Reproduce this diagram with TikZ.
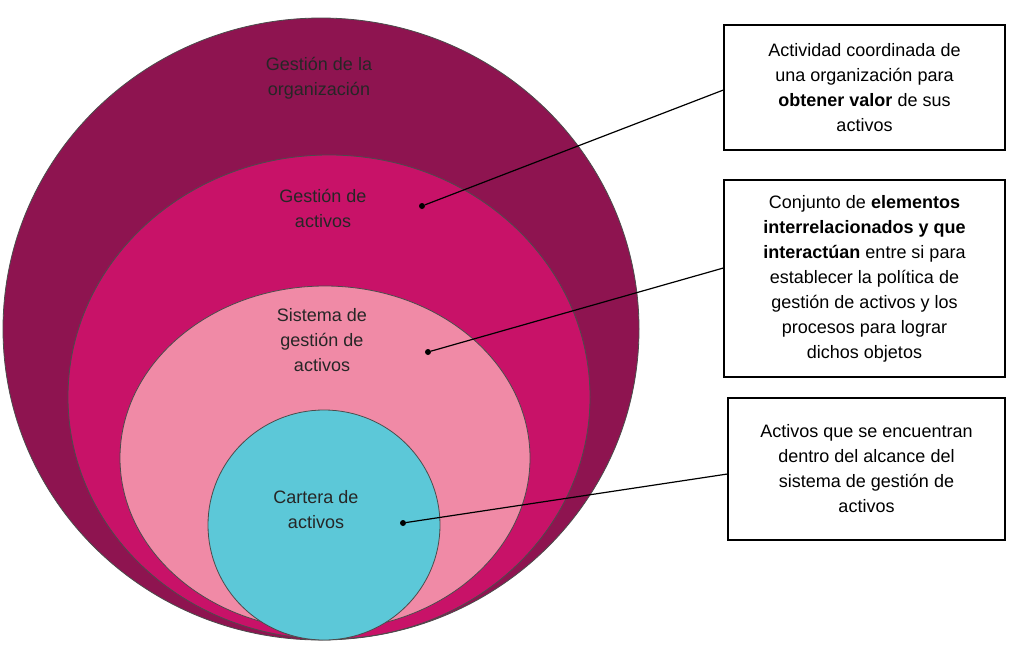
\documentclass[tikz,border=0pt]{standalone}
\usepackage{fontspec}
\setmainfont{Liberation Sans}
\begin{document}
\begin{tikzpicture}[x=1pt,y=-1pt,
  ring/.style={draw=black!70,line width=0.8pt},
  lbl/.style={align=center,font=\fontsize{18}{25}\selectfont,text=black!85},
  box/.style={draw=black,line width=1.2pt,align=center,font=\fontsize{18}{25}\selectfont,inner sep=4pt},
  dot/.style={circle,fill=black,inner sep=0pt,minimum size=6pt},
  con/.style={line width=1.2pt}]
\useasboundingbox (0,0) rectangle (1023,665);
\fill[white] (0,0) rectangle (1023,665);
\draw[ring,fill={rgb,255:red,142;green,20;blue,80}] (321,329) ellipse [x radius=318,y radius=311];
\draw[ring,fill={rgb,255:red,200;green,18;blue,104}] (329,397) ellipse [x radius=261,y radius=242];
\draw[ring,fill={rgb,255:red,240;green,138;blue,166}] (325,458) ellipse [x radius=205,y radius=172];
\draw[ring,fill={rgb,255:red,92;green,200;blue,216}] (324,525) ellipse [x radius=116,y radius=115];
\node[lbl] (t1) at (319,78) {Gestión de la\\organización};
\node[lbl] (t2) at (323,208) {Gestión de\\activos};
\node[lbl] (t3) at (322,340) {Sistema de\\gestión de\\activos};
\node[lbl] (t4) at (316,510) {Cartera de\\activos};
\node[dot] (d1) at (422,206) {};
\node[dot] (d2) at (428,352) {};
\node[dot] (d3) at (403,523) {};
\node[box,minimum width=281pt,minimum height=125pt] (b1) at (864.5,87.5) {Actividad coordinada de\\una organización para\\\textbf{obtener valor} de sus\\activos};
\node[box,minimum width=281pt,minimum height=197pt] (b2) at (864.5,278.5) {Conjunto de \textbf{elementos}\\\textbf{interrelacionados y que}\\\textbf{interactúan} entre si para\\establecer la política de\\gestión de activos y los\\procesos para lograr\\dichos objetos};
\node[box,minimum width=277pt,minimum height=142pt] (b3) at (866.5,469) {Activos que se encuentran\\dentro del alcance del\\sistema de gestión de\\activos};
\draw[con] (d1) -- (b1.west |- 0,90);
\draw[con] (d2) -- (b2.west |- 0,268);
\draw[con] (d3) -- (b3.west |- 0,474);
\end{tikzpicture}
\end{document}
